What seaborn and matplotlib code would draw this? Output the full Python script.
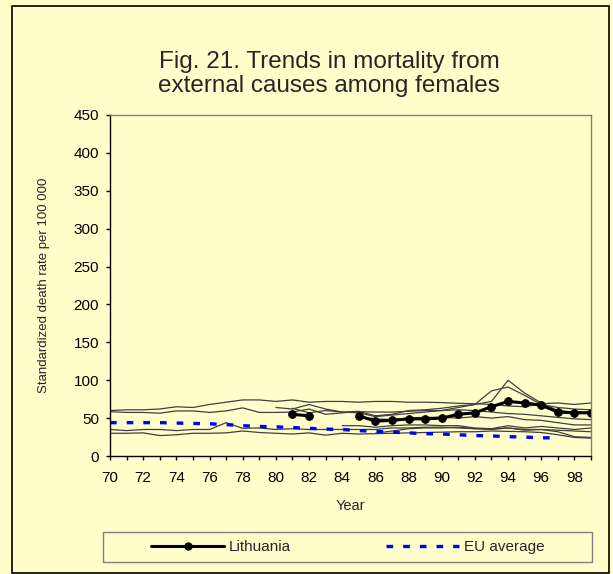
import pandas as pd
import seaborn as sns
import matplotlib.pyplot as plt
from matplotlib.lines import Line2D
from matplotlib.patches import Rectangle

# ---- data (years 1970-1999, None = no data) ----
years = list(range(70, 100))
year_labels = [str(y) if y % 2 == 0 else '' for y in years]
y_ticks = list(range(0, 451, 50))

lithuania = [None] * 11 + [55, 53, None, None, 53, 46, 47, 49, 49, 50,
                           55, 57, 65, 72, 70, 67, 58, 57, 57]
eu_average = [44, 44, 44, 44, 43.5, 43, 42.5, 41.5, 40, 39,
              38.5, 37.5, 36.5, 35.5, 35, 33.5, 32.5, 31.5, 30.5, 29.5,
              29, 28, 27, 26.5, 25.5, 25, 24, 24, None, None]

country_a = [60, 61, 61, 62, 65, 64, 68, 71, 74, 74, 72, 74, 71, 72, 72,
             71, 72, 72, 71, 71, 70.5, 69.5, 69, 68, 66, 65, 69, 70, 68, 70]
country_b = [58.5, 57.5, 57.5, 56.5, 59.5, 59.5, 57.5, 59.5, 63.5, 57.5,
             57.5, 58, 62, 55, 57, 58.5, 58, 58, 59, 60,
             60, 61, 60, 58, 56, 55, 53, 51, 49, 48]
country_c = [None] * 10 + [64, 62, 68, 62, 58, 59, 53, 55, 60, 61,
                           63, 66, 68, 72, 100, 83, 70, 60, 58, 58]
country_d = [None] * 11 + [63, 57, 60, 58, 57, 52, 54, 56, 58,
                           60, 64, 68, 86, 91, 80, 68, 64, 62, 61]
country_e = [35, 33.5, 35, 35, 33.5, 35, 35, 44, 36.5, 37,
             35, 36, 35, 35, 35, 35, 35, 37, 37, 38,
             38, 37, 36, 36, 37, 35, 35, 34, 33, 32]
country_f = [30, 30, 30.5, 27, 28, 30, 30, 30.5, 33, 31,
             30, 29, 30.5, 27.5, 30, 29, 29.5, 30, 30.5, 31,
             31.5, 32, 32, 33, 32.5, 32, 31, 28, 24.5, 23.5]
country_g = [None] * 15 + [52, 49, 48, 50, 51, 51, 50, 52, 50, 52,
                           48, 47, 44, 41, 41]
country_h = [None] * 14 + [40, 40, 38, 40, 41, 41, 40, 40, 37, 36, 40,
                           37, 39, 37, 35, 37]
country_i = [None] * 16 + [30, 33, 36, 37, 37, 38, 36, 35, 37, 34,
                           35, 32, 25.5, 24.5]

others = {'A': country_a, 'B': country_b, 'C': country_c, 'D': country_d,
          'E': country_e, 'F': country_f, 'G': country_g, 'H': country_h,
          'I': country_i}


def long_frame(series_dict):
    # one row per point; a gap in a series starts a new segment
    rows = []
    for name, values in series_dict.items():
        seg = 0
        for yr, v in zip(years, values):
            if v is None:
                seg += 1
                continue
            rows.append({'country': name, 'seg': '%s%d' % (name, seg),
                         'year': yr, 'rate': v})
    return pd.DataFrame(rows)


others_df = long_frame(others)
lt_df = long_frame({'Lithuania': lithuania})
eu_df = long_frame({'EU average': eu_average})

# ---- style ----
bg = '#FFFFCC'
sns.set_style('ticks')
plt.rcParams['font.family'] = ['Liberation Sans', 'DejaVu Sans']

fig = plt.figure(figsize=(6.13, 5.74), dpi=100)
fig.patch.set_facecolor(bg)
ax = fig.add_axes([110 / 613, 1 - 456 / 574, 481 / 613, 341 / 574])
ax.set_facecolor(bg)

sns.lineplot(data=others_df, x='year', y='rate', units='seg', estimator=None,
             color='#404040', lw=0.9, ax=ax, legend=False)
sns.lineplot(data=eu_df, x='year', y='rate', units='seg', estimator=None,
             color='#0000FF', lw=2.4, dashes=False, ax=ax, legend=False)
ax.lines[-1].set_dashes((2, 3))
sns.lineplot(data=lt_df, x='year', y='rate', units='seg', estimator=None,
             color='black', lw=2.2, marker='o', markersize=5.5,
             markeredgecolor='black', ax=ax, legend=False)

ax.set_xlim(70, 99)
ax.set_ylim(0, 450)
ax.set_xticks(years)
ax.set_xticklabels(year_labels)
ax.set_yticks(y_ticks)
ax.tick_params(direction='out', length=3, width=1, colors='black',
               labelsize=11, pad=5)
ax.tick_params(axis='x', pad=8)

for side in ['top', 'right']:
    ax.spines[side].set_color('#808080')
    ax.spines[side].set_linewidth(1)
for side in ['left', 'bottom']:
    ax.spines[side].set_color('black')
    ax.spines[side].set_linewidth(1)

ax.set_xlabel('Year', fontsize=10.5)
ax.xaxis.set_label_coords(0.5, -0.125)
ax.set_ylabel('Standardized death rate per 100 000', fontsize=9.5)
ax.yaxis.set_label_coords(-0.125, 0.5)

fig.text(329 / 613, 1 - 74 / 574,
         'Fig. 21. Trends in mortality from\nexternal causes among females',
         ha='center', va='center', fontsize=17.5, linespacing=1.1)

# legend
handles = [Line2D([], [], color='black', lw=2.2, marker='o', markersize=5),
           Line2D([], [], color='#0000FF', lw=2.4, dashes=(2, 3))]
fig.legend(handles, ['Lithuania', 'EU average'], loc='center',
           bbox_to_anchor=(347.5 / 613, 1 - 547 / 574), ncol=2,
           frameon=False, handlelength=4.8, handletextpad=0.3,
           columnspacing=6.2, fontsize=11)
fig.add_artist(Rectangle((103 / 613, 1 - 562 / 574), 489 / 613, 30 / 574,
                         transform=fig.transFigure, fill=False,
                         ec='#808080', lw=1))

# outer frame
fig.add_artist(Rectangle((12 / 613, 1 - 573 / 574), 597 / 613, 567 / 574,
                         transform=fig.transFigure, fill=False,
                         ec='black', lw=1.2))

fig.savefig('out.png', dpi=100, facecolor=bg)
